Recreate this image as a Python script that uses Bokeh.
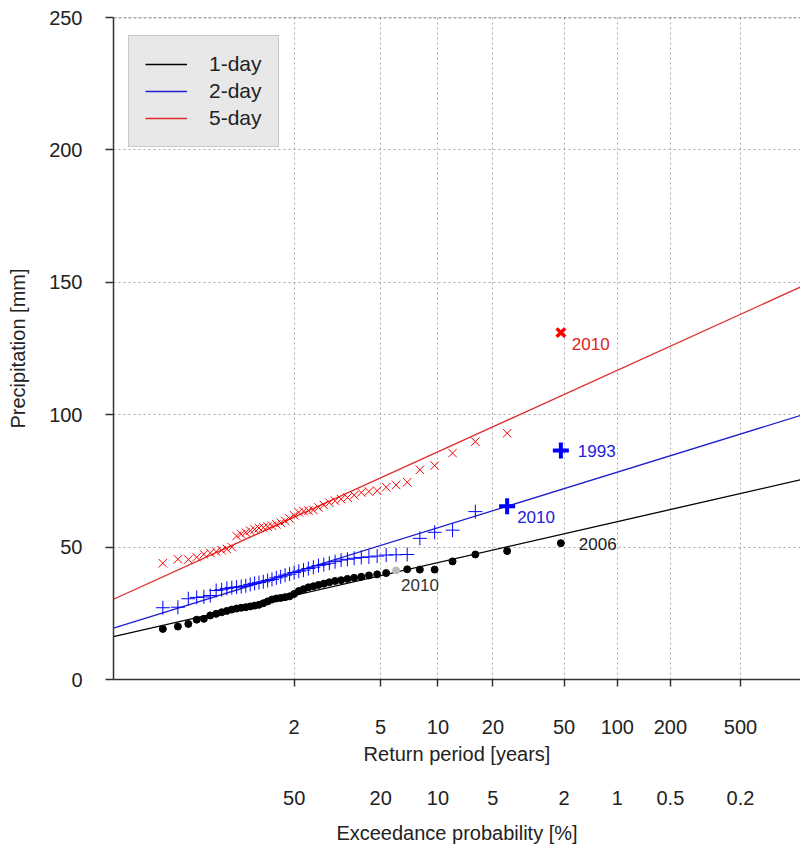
import numpy as np
from bokeh.plotting import figure
from bokeh.models import (ColumnDataSource, LinearAxis, FixedTicker, Range1d, Span,
                          Legend, LegendItem, Grid)
from bokeh.core.properties import value
from bokeh.embed import file_html
from bokeh.resources import INLINE

FONT = "Liberation Sans"

# ---------------- data (annual maxima, sorted ascending, mm) ----------------
day1 = [19.1, 20.0, 21.0, 22.6, 22.9, 24.2, 24.8, 25.4, 25.9, 26.4,
        26.8, 27.1, 27.3, 27.6, 27.9, 28.2, 28.8, 29.5, 30.2, 30.6,
        30.8, 31.1, 31.4, 32.3, 33.4, 34.1, 34.8, 35.2, 35.7, 36.2,
        36.7, 37.2, 37.5, 38.0, 38.4, 38.8, 39.3, 39.7, 40.2, 41.2,
        41.6, 41.5, 41.5, 44.6, 47.2, 48.5, 51.5]
day2 = [27.1, 27.3, 30.5, 31.0, 31.2, 31.7, 33.6, 33.9, 34.4, 34.7,
        34.9, 35.1, 35.4, 35.9, 36.3, 36.6, 36.9, 37.4, 37.8, 38.4,
        38.8, 39.4, 39.8, 40.4, 40.9, 41.3, 41.9, 42.4, 43.0, 43.4,
        43.9, 44.5, 45.1, 45.4, 45.8, 46.1, 46.3, 46.6, 47.0, 47.1,
        47.2, 53.3, 55.6, 56.4, 63.4, 65.4, 86.5]
day5 = [43.9, 45.4, 45.3, 46.2, 47.3, 47.8, 48.3, 48.8, 49.3, 50.0,
        54.2, 54.9, 55.5, 56.2, 56.7, 57.2, 57.4, 57.7, 58.1, 58.6,
        59.2, 59.9, 60.8, 62.0, 63.1, 63.6, 63.8, 64.0, 65.0, 65.9,
        66.8, 67.5, 68.1, 68.7, 69.6, 70.6, 71.0, 71.3, 72.6, 73.5,
        74.5, 79.2, 80.8, 85.5, 89.8, 93.0, 131.0]

# fitted Gumbel lines: values at the two ends of the reduced-variate range
fit_u = [-2.0, 7.0]
fit1 = [16.2, 75.4]
fit2 = [19.4, 99.7]
fit5 = [30.3, 148.2]

# annotated events: (rank from top, year)
grey1_rank = 8          # 2010 1-day event shown in grey
bold2_ranks = [1, 2]
bold5_ranks = [1]

return_periods = [2, 5, 10, 20, 50, 100, 200, 500]
exceed_labels = ["50", "20", "10", "5", "2", "1", "0.5", "0.2"]
y_ticks = [0, 50, 100, 150, 200, 250]


def gumbel_u(p):
    return -np.log(-np.log(np.asarray(p, dtype=float)))


n = len(day1)
pos_u = gumbel_u(np.arange(1, n + 1) / (n + 1.0))     # Weibull plotting positions
tick_u = [float(v) for v in gumbel_u([1 - 1.0 / t for t in return_periods])]

p = figure(width=800, height=847, x_range=Range1d(-2, 7), y_range=Range1d(0, 250),
           output_backend="svg", toolbar_location=None,
           x_axis_location=None, y_axis_location=None,
           min_border_left=113, min_border_right=0, min_border_top=17,
           min_border_bottom=168)
p.center = [r for r in p.center if not isinstance(r, Grid)]
p.outline_line_color = None
p.background_fill_color = "white"

# grids
p.add_layout(Grid(dimension=0, ticker=FixedTicker(ticks=tick_u),
                  grid_line_color="#a8a8a8", grid_line_dash="2 3", grid_line_width=1))
p.add_layout(Grid(dimension=1, ticker=FixedTicker(ticks=y_ticks[1:-1]),
                  grid_line_color="#a8a8a8", grid_line_dash="2 3", grid_line_width=1))
p.add_layout(Span(location=250, dimension="width", line_color="#555555",
                  line_dash="3 2", line_width=1.5))

# y axis
yax = LinearAxis(ticker=FixedTicker(ticks=y_ticks), axis_label="Precipitation [mm]")
yax.major_tick_out = 8
yax.major_tick_in = 0
yax.minor_tick_out = 0
yax.major_label_standoff = 23
yax.axis_label_standoff = 17
yax.axis_line_color = "#333333"
yax.axis_line_width = 1.5
yax.major_tick_line_color = "#333333"
yax.major_tick_line_width = 1.5
p.add_layout(yax, "left")

# x axis: return period
xax = LinearAxis(ticker=FixedTicker(ticks=tick_u), axis_label="Return period [years]",
                 major_label_overrides={u: str(t) for u, t in zip(tick_u, return_periods)})
xax.major_tick_out = 7
xax.major_tick_in = 0
xax.minor_tick_out = 0
xax.major_label_standoff = 33
xax.axis_label_standoff = 6
xax.axis_line_color = "#333333"
xax.axis_line_width = 1.5
xax.major_tick_line_color = "#333333"
xax.major_tick_line_width = 1.5
p.add_layout(xax, "below")

# x axis: exceedance probability
pax = LinearAxis(ticker=FixedTicker(ticks=tick_u), axis_label="Exceedance probability [%]",
                 major_label_overrides={u: s for u, s in zip(tick_u, exceed_labels)})
pax.axis_line_color = None
pax.major_tick_line_color = None
pax.major_tick_out = 0
pax.major_tick_in = 0
pax.minor_tick_out = 0
pax.major_label_standoff = 23
pax.axis_label_standoff = 14
p.add_layout(pax, "below")

for ax in [yax, xax, pax]:
    ax.major_label_text_font = FONT
    ax.major_label_text_font_size = "20px"
    ax.major_label_text_color = "#222222"
    ax.axis_label_text_font = FONT
    ax.axis_label_text_font_size = "20px"
    ax.axis_label_text_font_style = "normal"
    ax.axis_label_text_color = "#222222"

# fitted lines
l1 = p.line(fit_u, fit1, line_color="black", line_width=1.3)
l2 = p.line(fit_u, fit2, line_color="#2020cc", line_width=1.3)
l5 = p.line(fit_u, fit5, line_color="#dd2a2a", line_width=1.3)

# points
rank_top = n - np.arange(n)  # rank from top for ascending index
c1 = ["#bbbbbb" if r == grey1_rank else "black" for r in rank_top]
p.scatter(x=pos_u, y=day1, marker="circle", size=7, fill_color=c1, line_color=c1)

m2 = np.array([r not in bold2_ranks for r in rank_top])
p.scatter(x=pos_u[m2], y=np.array(day2)[m2], marker="cross", size=14,
          line_color="#0000ff", line_width=1)
p.scatter(x=pos_u[~m2], y=np.array(day2)[~m2], marker="cross", size=16,
          line_color="#0000ff", line_width=4)

m5 = np.array([r not in bold5_ranks for r in rank_top])
p.scatter(x=pos_u[m5], y=np.array(day5)[m5], marker="x", size=12,
          line_color="#ff0000", line_width=1)
p.scatter(x=pos_u[~m5], y=np.array(day5)[~m5], marker="x", size=12,
          line_color="#ff0000", line_width=3.5)


def note(vals, rank, text, color, dx, dy):
    i = n - rank
    p.text(x=[pos_u[i]], y=[vals[i]], text=[text], x_offset=dx, y_offset=dy,
           text_font=value(FONT), text_font_size="17px", text_color=color,
           text_baseline="middle", text_align="left")


note(day1, 1, "2006", "#222222", 18, 1)
note(day1, 8, "2010", "#333333", 5, 15)
note(day2, 1, "1993", "#2020dd", 17, 1)
note(day2, 2, "2010", "#2020dd", 10, 11)
note(day5, 1, "2010", "#dd2222", 11, 11)

legend = Legend(items=[LegendItem(label="1-day", renderers=[l1]),
                       LegendItem(label="2-day", renderers=[l2]),
                       LegendItem(label="5-day", renderers=[l5])],
                location=(15, 532))
legend.background_fill_color = "#e8e8e8"
legend.background_fill_alpha = 1.0
legend.border_line_color = "#a8a8a8"
legend.border_line_width = 1.5
legend.label_text_font = FONT
legend.label_text_font_size = "21px"
legend.label_text_color = "#222222"
legend.glyph_width = 42
legend.glyph_height = 24
legend.label_height = 24
legend.label_standoff = 22
legend.padding = 16
legend.spacing = 3
legend.margin = 0
p.add_layout(legend)

open("out.html", "w").write(file_html(p, INLINE))
